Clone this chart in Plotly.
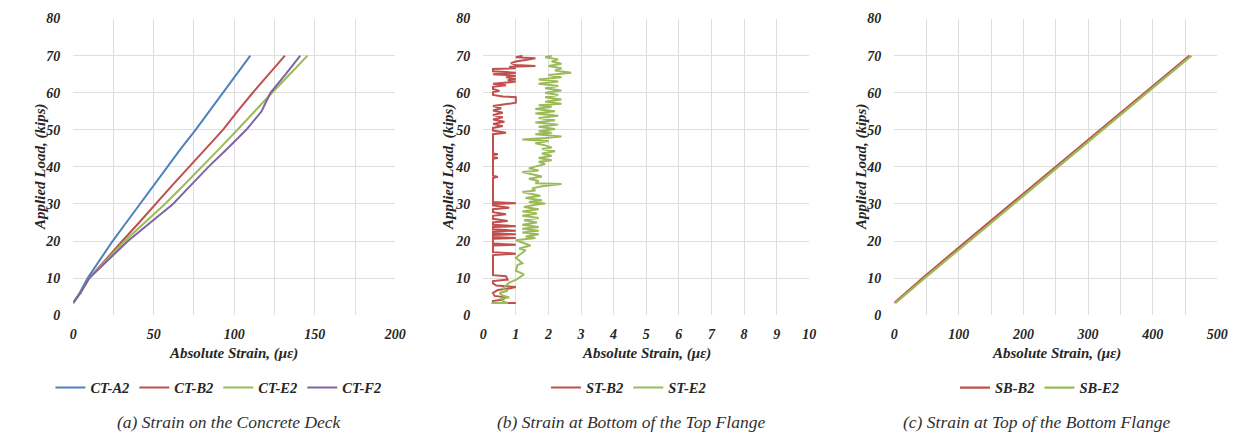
import plotly.graph_objects as go

# ---------------- data ----------------
# Panel (a) Strain on the Concrete Deck
a_load = [3.3, 6, 10, 15, 20, 25, 30, 35, 40, 45, 50, 55, 58, 60, 65, 70]
ct_a2 = [0, 4, 9, 16.5, 24.5, 33, 41.5, 49.5, 58, 67, 76, 84.5, 89.5, 93, 101.5, 110]
ct_b2 = [0, 4.5, 10, 20, 30.5, 41, 51, 61.5, 72, 82.5, 93, 102, 107.5, 111.5, 121.5, 131.5]
ct_e2 = [0, 4.5, 10, 21, 32, 44.5, 57, 68.5, 80, 91, 102, 112.5, 119, 123.5, 134.5, 145.5]
ct_f2 = [0, 4.5, 10, 22, 34, 48, 62, 73, 84, 96, 107.5, 117, 120.5, 122.5, 132, 141]

# Panel (b) Strain at Bottom of the Top Flange
st_b2_x = [1.0, 0.3, 0.3, 0.6, 0.7, 0.35, 0.3, 0.45, 0.8, 1.0, 0.4, 0.3, 0.3, 0.75, 0.7, 0.3,
           0.3, 1.0, 0.3, 0.3, 1.0, 0.3, 0.3, 1.0, 0.3, 0.3, 1.0, 0.3, 0.3, 1.0, 0.3, 0.3,
           1.0, 0.3, 0.3, 0.75, 0.3, 0.3, 0.7, 0.3, 0.3, 0.8, 0.3, 0.3, 1.0, 0.3, 0.3, 0.45,
           0.3, 0.3, 0.45, 0.3, 0.3, 0.45, 0.3, 0.3, 0.7, 0.3, 0.3, 0.6, 0.3, 0.65, 0.3, 0.6,
           0.3, 0.6, 0.3, 0.55, 0.3, 0.7, 1.0, 1.0, 0.6, 0.3, 0.3, 0.5, 0.3, 0.3, 0.7, 0.3,
           0.7, 1.0, 0.75, 1.0, 0.7, 1.0, 0.3, 1.0, 0.3, 0.3, 1.0, 0.8, 1.6, 1.0, 0.85, 1.0,
           1.3, 1.6, 1.0, 1.2]
st_b2_y = [3.3, 3.3, 3.8, 4.2, 4.8, 5.2, 6.0, 6.8, 7.2, 7.6, 8.0, 8.6, 9.2, 9.6, 10.5, 10.8,
           16.2, 16.6, 17.0, 18.8, 19.0, 19.3, 20.6, 20.8, 21.1, 21.6, 21.8, 22.1, 22.6, 22.8, 23.2, 23.8,
           24.0, 24.4, 25.0, 25.4, 26.0, 26.8, 27.2, 27.8, 28.6, 29.0, 29.6, 30.0, 30.2, 30.5, 37.0, 37.3,
           37.6, 42.2, 42.4, 42.6, 43.2, 43.4, 43.6, 48.8, 49.2, 49.8, 50.5, 51.0, 51.6, 52.2, 52.8, 53.4,
           54.0, 54.6, 55.2, 55.8, 56.4, 57.0, 57.3, 58.8, 59.0, 59.4, 60.2, 60.5, 61.0, 61.6, 62.0, 62.4,
           62.8, 63.0, 63.4, 63.8, 64.2, 64.6, 65.0, 65.4, 65.8, 66.4, 66.6, 67.0, 67.2, 67.5, 68.0, 68.4,
           68.8, 69.3, 69.6, 70.0]
st_e2_x = [0.25, 0.75, 0.6, 0.55, 0.8, 0.6, 0.5, 0.75, 0.6, 0.7, 0.8, 1.0, 1.25, 1.0, 1.05, 1.2,
           1.0, 1.15, 1.3, 1.1, 1.45, 1.0, 1.6, 1.3, 1.7, 1.2, 1.7, 1.2, 1.7, 1.2, 1.65, 1.25,
           1.7, 1.2, 1.65, 1.2, 1.7, 1.25, 1.6, 1.9, 1.4, 1.8, 1.3, 1.75, 1.4, 1.2, 1.6, 1.5,
           1.8, 2.4, 1.6, 1.7, 1.4, 1.8, 1.5, 1.2, 1.7, 1.4, 1.65, 1.9, 1.7, 2.1, 1.7, 2.1,
           1.8, 2.2, 1.8, 2.1, 1.9, 1.6, 2.0, 1.2, 1.9, 2.4, 1.6, 2.1, 1.7, 2.2, 1.7, 2.3,
           1.6, 2.2, 1.7, 2.3, 1.6, 2.2, 1.6, 2.1, 1.7, 2.4, 1.9, 2.4, 1.9, 2.3, 1.9, 2.4,
           1.9, 2.3, 1.7, 2.3, 1.7, 2.4, 2.0, 2.7, 2.2, 2.4, 2.0, 2.4, 2.1, 2.3, 1.9, 2.1]
st_e2_y = [3.3, 3.3, 3.8, 4.4, 4.8, 5.3, 6.0, 6.6, 7.2, 8.0, 8.8, 9.5, 11.0, 12.0, 13.5, 14.0,
           15.5, 16.5, 17.5, 18.0, 18.8, 20.2, 20.8, 21.2, 21.8, 22.3, 22.8, 23.3, 23.8, 24.4, 25.0, 25.6,
           26.2, 26.8, 27.4, 28.0, 28.6, 29.2, 29.8, 30.1, 30.5, 31.0, 31.6, 32.2, 32.8, 33.2, 33.6, 34.2,
           34.8, 35.4, 35.6, 36.2, 36.8, 37.4, 38.0, 38.6, 39.0, 39.6, 40.2, 40.8, 41.4, 41.8, 42.4, 43.0,
           43.6, 44.2, 44.8, 45.2, 45.8, 46.4, 47.0, 47.4, 47.8, 48.2, 48.8, 49.2, 49.6, 50.2, 50.8, 51.4,
           52.0, 52.6, 53.2, 53.8, 54.4, 55.0, 55.6, 56.2, 56.6, 57.0, 57.6, 58.2, 58.8, 59.4, 60.0, 60.6,
           61.2, 61.8, 62.4, 63.0, 63.6, 64.2, 64.8, 65.4, 66.0, 66.6, 67.2, 67.8, 68.4, 69.0, 69.6, 70.0]

# Panel (c) Strain at Top of the Bottom Flange
c_load = [3.3, 10, 20, 30, 40, 50, 60, 70]
sb_b2 = [0, 44, 112, 181, 249, 318, 388, 457]
sb_e2 = [2, 47, 116, 185, 254, 323, 392, 460]

# ---------------- styling ----------------
BLUE, RED, GREEN, PURPLE = "#4F81BD", "#C0504D", "#9BBB59", "#8064A2"
SERIF = "Liberation Serif"
TXT = "#262626"
GRID = "#dedede"

fig = go.Figure()

def add(x, y, name, color, xa, ya, legend, width=2):
    fig.add_trace(go.Scatter(x=x, y=y, mode="lines", name=name,
                             line=dict(color=color, width=width),
                             xaxis=xa, yaxis=ya, legend=legend))

add(ct_a2, a_load, "CT-A2", BLUE, "x", "y", "legend", 2)
add(ct_b2, a_load, "CT-B2", RED, "x", "y", "legend", 2)
add(ct_e2, a_load, "CT-E2", GREEN, "x", "y", "legend", 2)
add(ct_f2, a_load, "CT-F2", PURPLE, "x", "y", "legend", 2)
add(st_b2_x, st_b2_y, "ST-B2", RED, "x2", "y2", "legend2", 2)
add(st_e2_x, st_e2_y, "ST-E2", GREEN, "x2", "y2", "legend2", 2)
add(sb_b2, c_load, "SB-B2", RED, "x3", "y3", "legend3", 2.2)
add(sb_e2, c_load, "SB-E2", GREEN, "x3", "y3", "legend3", 2.2)

W, H = 1255, 442
ydom = [1 - 319 / H, 1 - 12 / H]
tickfont = dict(family=SERIF, size=14, color=TXT, weight="bold", style="italic")

def xaxis(dom, rng, dtick, minor):
    d = dict(domain=dom, range=rng, dtick=dtick, tick0=0, showgrid=True, gridcolor=GRID,
             gridwidth=1, zeroline=False, showline=False, ticks="", tickfont=tickfont,
             ticklabelstandoff=9, fixedrange=True)
    if minor:
        d["minor"] = dict(dtick=minor, tick0=0, showgrid=True, gridcolor=GRID, gridwidth=1)
    return d

def yaxis(anchor):
    return dict(domain=ydom, range=[0, 80], dtick=10, showgrid=True, gridcolor=GRID,
                zeroline=False, showline=False, ticks="", tickfont=tickfont,
                ticklabelstandoff=12, anchor=anchor, fixedrange=True)

xa = [70, 396]
xb = [485, 815]
xc = [901, 1228]
fig.update_layout(
    width=W, height=H, margin=dict(l=0, r=0, t=0, b=0),
    paper_bgcolor="white", plot_bgcolor="white",
    xaxis=dict(xaxis([xa[0] / W, xa[1] / W], [0, 200], 50, 25), anchor="y"),
    xaxis2=dict(xaxis([xb[0] / W, xb[1] / W], [0, 10], 1, None), anchor="y2"),
    xaxis3=dict(xaxis([xc[0] / W, xc[1] / W], [0, 500], 100, 50), anchor="y3"),
    yaxis=yaxis("x"), yaxis2=yaxis("x2"), yaxis3=yaxis("x3"),
)

legfont = dict(family=SERIF, size=14.5, color=TXT, weight="bold", style="italic")
def legend(cx):
    return dict(orientation="h", x=cx / W, xanchor="center", y=1 - 394 / H, yanchor="middle",
                font=legfont, bgcolor="rgba(0,0,0,0)", itemclick=False, itemdoubleclick=False,
                tracegroupgap=0)
fig.update_layout(legend=legend(217), legend2=legend(632), legend3=legend(1048))

anns = []
titlefont = dict(family=SERIF, size=15, color=TXT, weight="bold", style="italic")
capfont = dict(family=SERIF, size=17.5, color="#303030", style="italic")
for yx, xcx, capx, cap in [
    (37, 232, 228, "(a) Strain on the Concrete Deck"),
    (450, 650, 635, "(b) Strain at Bottom of the Top Flange"),
    (868, 1065, 1045, "(c) Strain at Top of the Bottom Flange"),
]:
    anns.append(dict(text="Applied Load, (kips)", x=yx / W, y=1 - 166 / H, xref="paper", yref="paper",
                     textangle=-90, showarrow=False, font=titlefont, xanchor="center", yanchor="middle"))
    anns.append(dict(text="Absolute Strain, (\u03bc\u03b5)", x=xcx / W, y=1 - 359 / H, xref="paper", yref="paper",
                     showarrow=False, font=titlefont, xanchor="center", yanchor="middle"))
    anns.append(dict(text=cap, x=capx / W, y=1 - 430 / H, xref="paper", yref="paper",
                     showarrow=False, font=capfont, xanchor="center", yanchor="middle"))
fig.update_layout(annotations=anns)

fig.write_html("out.html")
